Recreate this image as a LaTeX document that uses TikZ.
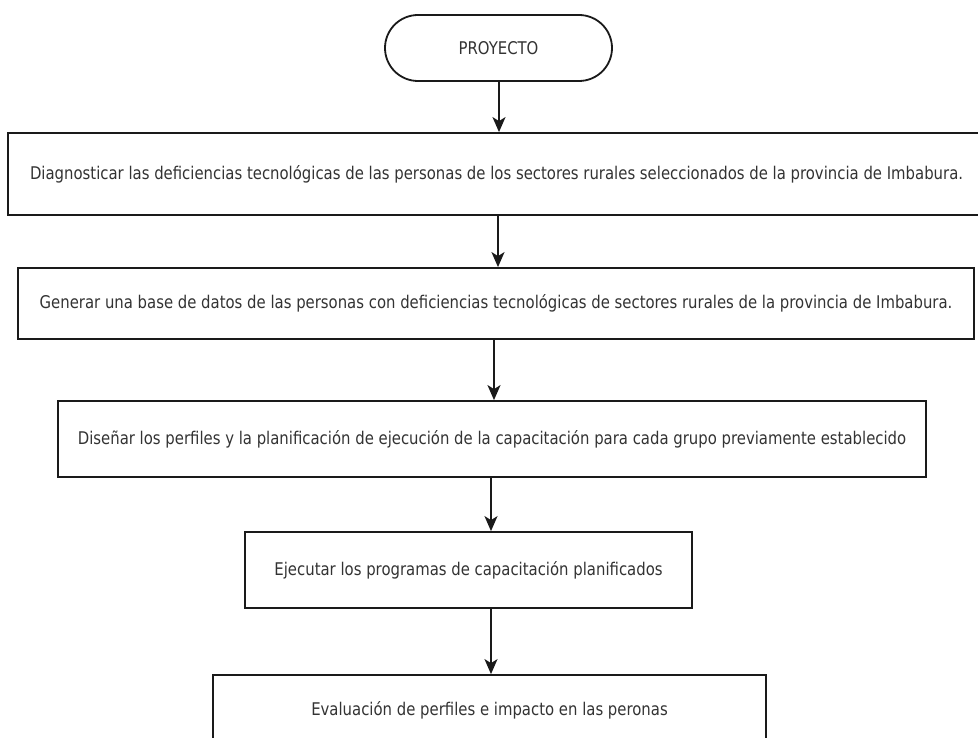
\documentclass[tikz,border=0pt]{standalone}
\usepackage{fontspec}
\setmainfont[FakeStretch=0.85]{DejaVu Sans}
\usetikzlibrary{arrows.meta}
\definecolor{txt}{HTML}{333333}
\definecolor{ln}{HTML}{1A1A1A}
\begin{document}
\begin{tikzpicture}[x=1pt,y=-1pt,
  box/.style={draw=ln, line width=1.8pt, rectangle, inner sep=0pt, text=txt,
    font=\fontsize{17.5}{20}\selectfont},
  term/.style={draw=ln, line width=1.8pt, rounded corners=33pt, inner sep=0pt,
    text=txt, font=\fontsize{17.5}{20}\selectfont},
  arr/.style={draw=ln, line width=1.8pt, -{Stealth[length=15pt,width=13pt,inset=4pt]}}]
\useasboundingbox (0,0) rectangle (978,738);
\clip (0,0) rectangle (978,738);
\fill[white] (0,0) rectangle (978,738);
\node[term, minimum width=227pt, minimum height=66pt] (t) at (498.5,48) {PROYECTO};
\node[box, minimum width=982pt, minimum height=82pt] (b1) at (499,174)
  {\hspace*{-5pt}Diagnosticar las deficiencias tecnológicas de las personas de los sectores rurales seleccionados de la provincia de Imbabura.};
\node[box, minimum width=956pt, minimum height=71pt] (b2) at (496,303.5)
  {Generar una base de datos de las personas con deficiencias tecnológicas de sectores rurales de la provincia de Imbabura.};
\node[box, minimum width=868pt, minimum height=76pt] (b3) at (492,439)
  {Diseñar los perfiles y la planificación de ejecución de la capacitación para cada grupo previamente establecido};
\node[box, minimum width=447pt, minimum height=76pt] (b4) at (468.5,570)
  {Ejecutar los programas de capacitación planificados};
\node[box, minimum width=553pt, minimum height=90pt, text depth=0pt] (b5) at (489.5,720)
  {\raisebox{24pt}{Evaluación de perfiles e impacto en las peronas}};
\draw[arr] ([xshift=0.5pt]t.south) -- ([xshift=0.5pt]t.south |- b1.north);
\draw[arr] ([xshift=-1pt]b1.south) -- ([xshift=-1pt]b1.south |- b2.north);
\draw[arr] ([xshift=-2pt]b2.south) -- ([xshift=-2pt]b2.south |- b3.north);
\draw[arr] ([xshift=-1pt]b3.south) -- ([xshift=-1pt]b3.south |- b4.north);
\draw[arr] ([xshift=22.5pt]b4.south) -- ([xshift=22.5pt]b4.south |- b5.north);
\end{tikzpicture}
\end{document}
